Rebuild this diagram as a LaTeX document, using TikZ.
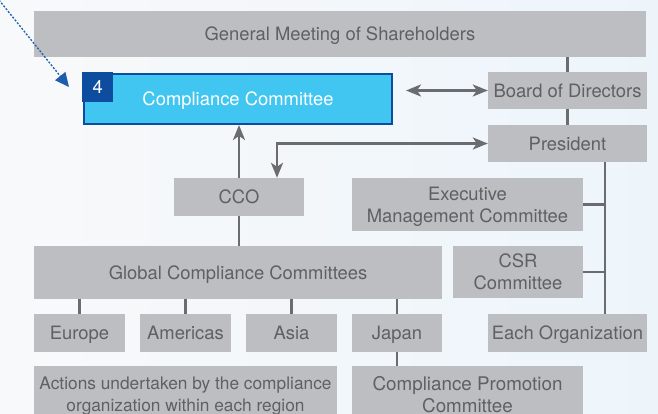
\documentclass[tikz,border=0pt]{standalone}
\usepackage{fontspec}
\setmainfont{TeX Gyre Heros}
\usepackage{xcolor}
\definecolor{cBox}{HTML}{BDBEC1}
\definecolor{cText}{HTML}{5F6062}
\definecolor{cLine}{HTML}{6B6C6F}
\definecolor{cSky}{HTML}{40C6F1}
\definecolor{cNavy}{HTML}{0D4C9E}
\definecolor{cPointer}{HTML}{1B5DAE}
\definecolor{cBgL}{HTML}{F8F9FA}
\definecolor{cBgR}{HTML}{EDF5FB}
\usetikzlibrary{positioning,arrows.meta,calc}
\newcommand{\orgfont}{\fontsize{18.4}{22}\selectfont}
\tikzset{
  node-org/.style={fill=cBox,text=cText,inner sep=0pt,text depth=0pt,align=center,font=\orgfont},
  node-focus/.style={fill=cSky,draw=cNavy,line width=2pt,text=white,inner sep=0pt,text depth=0pt,font=\orgfont},
  node-badge/.style={fill=cNavy,text=white,inner sep=0pt,text depth=0pt,font=\orgfont},
  link/.style={line width=2.4pt,draw=cLine},
  arrow/.style={link,-{Stealth[length=15pt,width=12pt,inset=4pt]}},
  arrow-both/.style={link,{Stealth[length=15pt,width=12pt,inset=4pt]}-{Stealth[length=15pt,width=12pt,inset=4pt]}},
  arrow-pointer/.style={line width=1.3pt,draw=cPointer,dash pattern=on 2pt off 1.6pt,
    -{Triangle[length=14pt,width=13pt,fill=cPointer]}},
}

\begin{document}
\begin{tikzpicture}[x=1pt,y=-1pt]
  \shade[left color=cBgL,right color=cBgR] (0,0) rectangle (658,414);
  \useasboundingbox (0,0) rectangle (658,414);
  % top of the structure
  \node[node-org,minimum width=612pt,minimum height=46pt] (gms) at (340,34) {General Meeting of Shareholders};
  \node[node-focus,minimum width=308pt,minimum height=50pt] (cc) at (238,99) {Compliance Committee};
  \node[node-badge,anchor=north west,minimum width=31pt,minimum height=30pt] (badge)
    at ([shift={(-1pt,1pt)}]cc.north west) {4};
  \node[node-org,minimum width=159pt,minimum height=37pt] (bod) at (567.5,90.5) {Board of Directors};
  \node[node-org,minimum width=159pt,minimum height=37pt] (pres) at (567.5,143.5) {President};
  \node[node-org,minimum width=130pt,minimum height=38pt] (cco) at (239,197) {CCO};
  \node[node-org,minimum width=231pt,minimum height=53pt] (emc) at (467.5,204.5) {Executive\\Management Committee};
  \node[node-org,minimum width=408pt,minimum height=53pt] (gcc) at (238,272.5) {Global Compliance Committees};
  \node[node-org,minimum width=130pt,minimum height=52pt] (csr) at (518,272) {CSR\\Committee};
  % regions
  \node[node-org,minimum width=91pt,minimum height=38pt] (europe) at (79.5,333) {Europe};
  \node[node-org,minimum width=91pt,minimum height=38pt] (americas) at (185.5,333) {Americas};
  \node[node-org,minimum width=91pt,minimum height=38pt] (asia) at (291.5,333) {Asia};
  \node[node-org,minimum width=90pt,minimum height=38pt] (japan) at (397,333) {Japan};
  \node[node-org,minimum width=159pt,minimum height=38pt] (eachorg) at (567.5,333) {Each Organization};
  \node[node-org,minimum width=303pt,minimum height=56pt,font=\fontsize{17.3}{22}\selectfont] (actions) at (185.5,394)
    {Actions undertaken by the compliance\\organization within each region};
  \node[node-org,minimum width=231pt,minimum height=56pt,font=\fontsize{18.8}{22}\selectfont] (cpc) at (467.5,394)
    {Compliance Promotion\\Committee};

  \coordinate (ptr) at (-1,0);
  \coordinate (trunk) at ([xshift=37.5pt]pres.south);
  \draw[link] (bod.north) -- (bod.north |- gms.south);
  \draw[link] (bod) -- (pres);
  \draw[arrow-both] ([xshift=13pt]cc.east |- bod.west) -- (bod.west);
  \draw[arrow] (cco.north) -- (cco.north |- cc.south);
  \draw[arrow-both] (pres.west) -| ([xshift=38pt]cco.north);
  \draw[link] (cco.south) -- (cco.south |- gcc.north);
  \draw[link] (trunk) -- (trunk |- eachorg.north);
  \draw[link] (emc.east) -- (emc.east -| trunk);
  \draw[link] (csr.east) -- (csr.east -| trunk);
  \foreach \r in {europe,americas,asia,japan}
    \draw[link] (\r.north) -- (\r.north |- gcc.south);
  \draw[link] (japan.south) -- (japan.south |- cpc.north);
  \draw[arrow-pointer] (ptr) -- ([shift={(-13pt,-15pt)}]badge.north west);
\end{tikzpicture}
\end{document}
